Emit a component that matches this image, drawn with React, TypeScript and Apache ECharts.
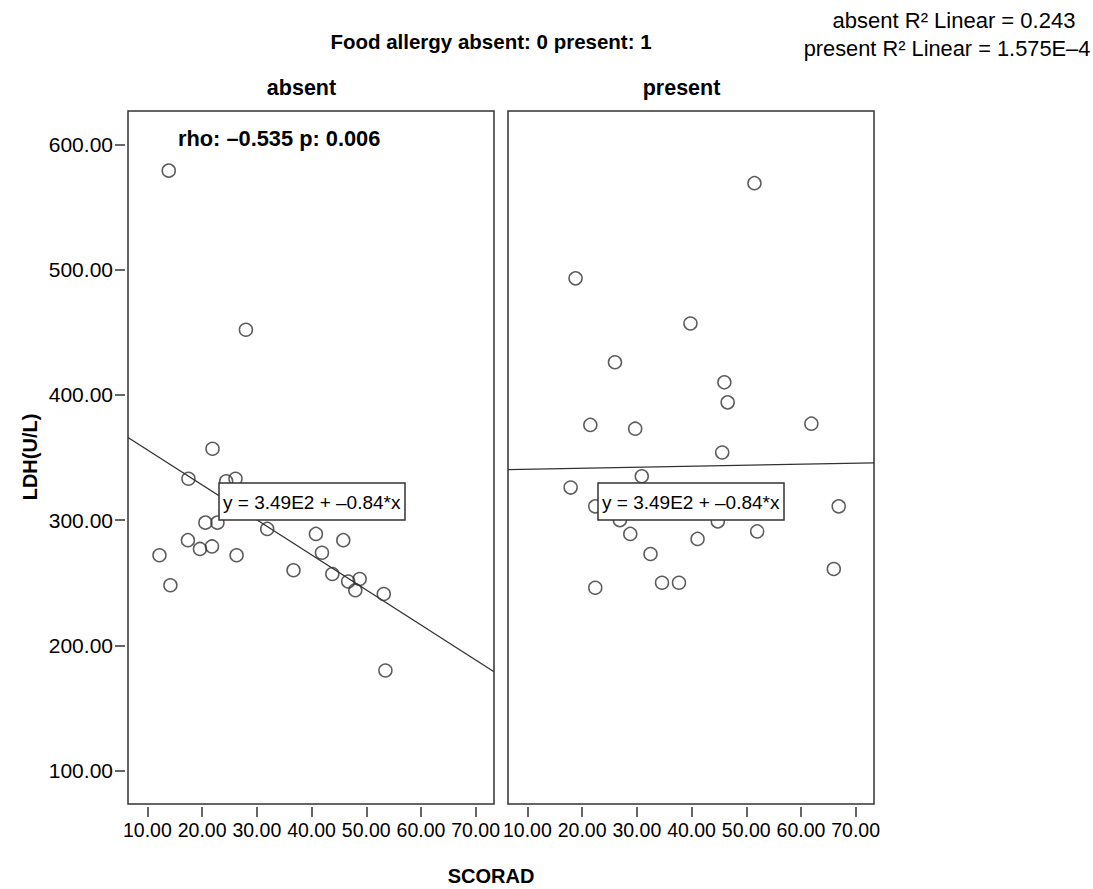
import React, { useEffect, useRef } from "react";
import * as echarts from "echarts";

// Absent group (SCORAD, LDH)
const absentScorad = [13.9, 28.0, 21.9, 17.5, 24.4, 26.1, 20.6, 22.8, 31.9, 40.8, 45.8, 41.9, 17.4, 19.6, 21.8, 12.2, 26.3, 14.2, 36.7, 43.8, 46.7, 48.8, 48.0, 53.2, 53.5];
const absentLdh = [579, 452, 357, 333, 331, 333, 298, 298, 293, 289, 284, 274, 284, 277, 279, 272, 272, 248, 260, 257, 251, 253, 244, 241, 180];

// Present group (SCORAD, LDH)
const presentScorad = [51.5, 18.8, 39.8, 26.0, 46.0, 46.6, 21.5, 29.7, 61.9, 45.6, 30.9, 17.9, 22.4, 66.9, 26.9, 44.8, 28.8, 41.1, 52.0, 32.5, 66.0, 22.4, 34.6, 37.7];
const presentLdh = [569, 493, 457, 426, 410, 394, 376, 373, 377, 354, 335, 326, 311, 311, 300, 299, 289, 285, 291, 273, 261, 246, 250, 250];

// Fit lines (endpoints at axis extents)
const fitX = [6.45, 73.35];
const absentFitY = [366, 179];
const presentFitY = [340.4, 345.7];

const xTicks = [10, 20, 30, 40, 50, 60, 70];
const yTicks = [100, 200, 300, 400, 500, 600];
const X_MIN = 6.45, X_MAX = 73.35, Y_MIN = 73.4, Y_MAX = 626.6;

const FONT = "'Liberation Sans', Arial, Helvetica, sans-serif";
const INK = "#333";

export default function App() {
  const ref = useRef<HTMLDivElement>(null);
  useEffect(() => {
    if (!ref.current) return;
    const chart = echarts.init(ref.current, undefined, { renderer: "svg" });
    const pts = (xs: number[], ys: number[]) => xs.map((x, i) => [x, ys[i]]);
    const grids = [
      { left: 128, top: 111, width: 366, height: 693 },
      { left: 508, top: 111, width: 366, height: 693 },
    ].map((g) => ({ ...g, show: true, borderColor: INK, borderWidth: 1.5, backgroundColor: "transparent", containLabel: false }));

    const mkX = (gi: number) => ({
      type: "value",
      gridIndex: gi,
      min: X_MIN,
      max: X_MAX,
      position: "bottom",
      offset: 3,
      splitLine: { show: false },
      axisLine: { show: false },
      axisTick: { show: true, length: 10, customValues: xTicks, lineStyle: { color: INK, width: 1.5 } },
      axisLabel: {
        customValues: xTicks,
        margin: 13,
        fontSize: 19.5,
        fontFamily: FONT,
        color: "#000",
        formatter: (v: number) => v.toFixed(2),
      },
    });
    const mkY = (gi: number, show: boolean) => ({
      type: "value",
      gridIndex: gi,
      min: Y_MIN,
      max: Y_MAX,
      position: "left",
      offset: 3,
      splitLine: { show: false },
      axisLine: { show: false },
      axisTick: { show, length: 10, customValues: yTicks, lineStyle: { color: INK, width: 1.5 } },
      axisLabel: {
        show,
        customValues: yTicks,
        margin: 12,
        fontSize: 21,
        fontFamily: FONT,
        color: "#000",
        formatter: (v: number) => v.toFixed(2),
      },
    });

    const scatter = (data: number[][], gi: number) => ({
      type: "scatter",
      xAxisIndex: gi,
      yAxisIndex: gi,
      data,
      symbol: "circle",
      symbolSize: 13,
      itemStyle: { color: "rgba(0,0,0,0)", borderColor: INK, borderWidth: 1.5 },
      z: 3,
    });
    const fit = (ys: number[], gi: number) => ({
      type: "line",
      xAxisIndex: gi,
      yAxisIndex: gi,
      data: pts(fitX, ys),
      symbol: "none",
      lineStyle: { color: INK, width: 1.3 },
      z: 2,
    });

    const txt = (text: string, x: number, y: number, size: number, bold: boolean, align = "center", rotation = 0) => ({
      type: "text",
      x,
      y,
      rotation,
      z: 100,
      style: {
        text,
        fontSize: size,
        fontFamily: FONT,
        fontWeight: bold ? "bold" : "normal",
        fill: "#000",
        align,
        verticalAlign: "middle",
      },
    });
    const box = (x: number) => ({
      type: "group",
      x,
      y: 483,
      z: 100,
      children: [
        { type: "rect", z: 100, shape: { x: 0, y: 0, width: 186, height: 37 }, style: { fill: "#fff", stroke: INK, lineWidth: 1.5 } },
        {
          type: "text",
          z: 101,
          x: 4,
          y: 19,
          style: { text: "y = 3.49E2 + \u20130.84*x", fontSize: 19, fontFamily: FONT, fill: "#000", align: "left", verticalAlign: "middle" },
        },
      ],
    });

    chart.setOption({
      animation: false,
      backgroundColor: "#fff",
      grid: grids,
      xAxis: [mkX(0), mkX(1)],
      yAxis: [mkY(0, true), mkY(1, false)],
      series: [
        fit(absentFitY, 0),
        fit(presentFitY, 1),
        scatter(pts(absentScorad, absentLdh), 0),
        scatter(pts(presentScorad, presentLdh), 1),
      ],
      graphic: [
        txt("Food allergy absent: 0 present: 1", 491, 41, 20.5, true),
        txt("absent R\u00b2 Linear = 0.243", 954, 20, 22, false),
        txt("present R\u00b2 Linear = 1.575E\u20134", 947, 48, 21.8, false),
        txt("absent", 301.5, 88, 21.5, true),
        txt("present", 681.5, 88, 21.5, true),
        txt("rho: \u20130.535 p: 0.006", 178, 138, 21.8, true, "left"),
        txt("LDH(U/L)", 30, 457, 20, true, "center", Math.PI / 2),
        txt("SCORAD", 491, 876, 20, true),
        box(219),
        box(598),
      ],
    });
    return () => chart.dispose();
  }, []);
  return <div ref={ref} style={{ position: "absolute", left: 0, top: 0, width: 1093, height: 889 }} />;
}
